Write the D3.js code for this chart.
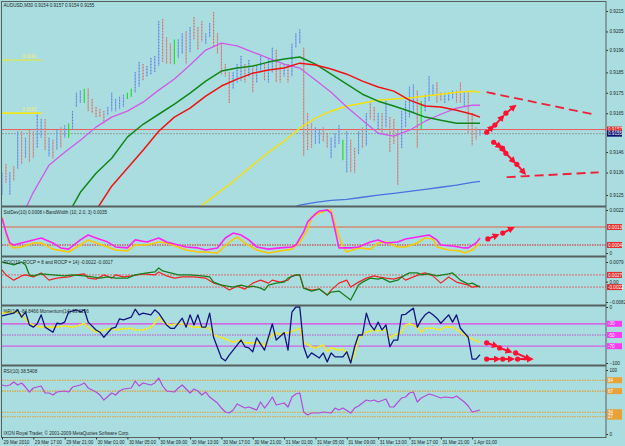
<!DOCTYPE html>
<html>
<head>
<meta charset="utf-8">
<script src="https://cdn.jsdelivr.net/npm/d3@7"></script>
<style>
  body { margin: 0; background: #aadde0; }
  text { font-family: "Liberation Sans", Arial, sans-serif; font-size: 4.6px; fill: #1e2a2a; }
</style>
</head>
<body>
<svg id="chart" width="625" height="446"></svg>
<script>
// Price bars (M30), one entry per bar, index 0 = 29 Mar 13:00.
const barHigh = [0.9136,0.9140,0.9136,0.9139,0.9156,0.9156,0.9153,0.9157,0.9156,0.9165,
  0.9162,0.9162,0.9153,0.9152,0.9157,0.9158,0.9159,0.9160,0.9166,0.9175,
  0.9176,0.9177,0.9177,0.9172,0.9168,0.9167,0.9166,0.9168,0.9175,0.9172,
  0.9173,0.9174,0.9175,0.9177,0.9185,0.9190,0.9189,0.9188,0.9192,0.9193,
  0.9210,0.9211,0.9202,0.9199,0.9201,0.9201,0.9204,0.9205,0.9207,0.9212,
  0.9207,0.9210,0.9204,0.9209,0.92145,0.9204,0.9199,0.9189,0.9185,0.9185,
  0.9189,0.9193,0.9189,0.9191,0.9188,0.9188,0.9193,0.9189,0.9192,0.9197,
  0.9196,0.9189,0.9189,0.9189,0.9199,0.9204,0.9206,0.9197,0.9165,0.9160,
  0.9158,0.9157,0.9158,0.9155,0.9153,0.9155,0.9159,0.9152,0.9156,0.9152,
  0.9148,0.9156,0.9158,0.9165,0.9171,0.9168,0.9165,0.9165,0.9171,0.9163,
  0.9162,0.9157,0.9166,0.9171,0.9178,0.9179,0.9176,0.9171,0.9174,0.9183,
  0.9179,0.9180,0.9175,0.9175,0.9175,0.9176,0.9176,0.9180,0.9175,0.9175,
  0.9165,0.9158,0.9157];
const barLow = [0.9125,0.9131,0.9125,0.9132,0.9138,0.9140,0.9143,0.9141,0.9143,0.9148,
  0.9153,0.9147,0.9144,0.9143,0.9147,0.9148,0.9153,0.9153,0.9157,0.9168,
  0.9170,0.9170,0.9166,0.9165,0.9163,0.9163,0.9160,0.9164,0.9166,0.9166,
  0.9167,0.9168,0.9172,0.9173,0.9175,0.9178,0.9181,0.9183,0.9184,0.9185,
  0.9188,0.9190,0.9189,0.9189,0.9189,0.9192,0.9194,0.9189,0.9195,0.9201,
  0.9196,0.9200,0.9199,0.9202,0.9198,0.9194,0.9184,0.9183,0.9170,0.9177,
  0.9180,0.9181,0.9180,0.9183,0.9175,0.9180,0.9185,0.9181,0.9180,0.9185,
  0.9180,0.9180,0.9183,0.9180,0.9183,0.9197,0.9199,0.9144,0.9147,0.9148,
  0.9150,0.9150,0.9151,0.9148,0.9143,0.9148,0.9150,0.9142,0.9136,0.9136,
  0.9136,0.9145,0.9148,0.9149,0.9162,0.9161,0.9157,0.9155,0.9158,0.9146,
  0.9150,0.9130,0.9148,0.9158,0.9163,0.9165,0.9148,0.9157,0.9166,0.9171,
  0.9174,0.9170,0.9171,0.9170,0.9171,0.9172,0.9170,0.9170,0.9168,0.9155,
  0.9149,0.9152,0.9154];
// u = up bar, d = down bar, g = highlighted bar.
const barType = ("ududududdu" + "udududuguu" + "ugddddduuu" + "uugguuduuu" + "udddguudud" +
  "dduudddddu" + "uududuuduu" + "dduduuuddd" + "uudduuugud" + "dududdudud" +
  "dduuuudguu" + "udduuuddud" + "ddu").split("");

// Moving averages, sampled every 4 bars.
const maIdx = [0,4,8,12,16,20,24,28,32,36,40,44,48,52,56,60,64,68,72,76,80,84,88,92,96,100,104,108,112,116,120,122];
const maViolet = [null,0.91102,0.91263,0.91396,0.91459,0.91518,0.91582,0.91631,0.91660,0.91704,0.91763,0.91817,0.91886,0.91959,0.91993,0.91979,
  0.91949,0.91920,0.91890,0.91871,0.91812,0.91753,0.91680,0.91616,0.91552,0.91538,0.91567,0.91611,0.91645,0.91675,0.91689,0.91689];
const maGreen = [null,null,null,null,0.91126,0.91263,0.91356,0.91430,0.91533,0.91596,0.91645,0.91694,0.91748,0.91807,0.91856,0.91871,
  0.91881,0.91900,0.91915,0.91925,0.91890,0.91841,0.91792,0.91743,0.91709,0.91685,0.91660,0.91631,0.91616,0.91601,0.91601,0.91601];
const maRed = [null,null,null,null,null,0.91077,0.91175,0.91293,0.91381,0.91469,0.91562,0.91631,0.91675,0.91734,0.91783,0.91817,
  0.91846,0.91861,0.91871,0.91895,0.91886,0.91866,0.91841,0.91807,0.91778,0.91758,0.91714,0.91685,0.91680,0.91665,0.91645,0.91631];
const maYellow = [null,null,null,null,null,null,null,null,null,null,null,null,0.91151,0.91214,0.91273,0.91332,
  0.91396,0.91459,0.91513,0.91577,0.91626,0.91660,0.91685,0.91699,0.91714,0.91719,0.91724,0.91734,0.91743,0.91753,0.91758,0.91753];
const maBlue = [null,null,null,null,null,null,null,null,null,null,null,null,null,null,null,null,
  null,null,0.91175,0.91200,0.91214,0.91224,0.91229,0.91239,0.91249,0.91258,0.91268,0.91278,0.91288,0.91298,0.91312,0.91317];

// StdDev / BandWidth panel.
const sdMagIdx = [0,1,2,3,5,8,10,13,15,17,20,22,24,27,29,32,34,37,40,42,45,47,50,52,55,57,59,61,63,65,68,71,74,75,77,78,80,81,83,84,85,86,89,91,94,96,98,101,103,106,109,111,112,115,118,119,121,122];
const sdMag = [0.00179,0.00108,0.00051,0.00041,0.00051,0.00067,0.00077,0.00051,0.00026,0.00020,0.00067,0.00092,0.00077,0.00056,0.00031,
  0.00026,0.00067,0.00056,0.00077,0.00056,0.00041,0.00031,0.00026,0.00015,0.00026,0.00077,0.00102,0.00092,0.00067,0.00031,
  0.00020,0.00026,0.00031,0.00041,0.00108,0.00159,0.00200,0.00215,0.00220,0.00205,0.00118,0.00026,0.00026,0.00031,0.00056,
  0.00067,0.00051,0.00056,0.00072,0.00082,0.00092,0.00067,0.00041,0.00036,0.00026,0.00026,0.00051,0.00077];
const sdYelIdx = [0,1,2,3,5,8,10,13,17,20,22,24,27,29,32,34,37,40,42,45,47,50,52,55,58,60,62,65,68,71,74,76,78,79,81,83,84,85,87,88,91,94,96,98,101,103,106,108,110,111,114,117,118,120,122];
const sdYel = [0.00184,0.00102,0.00041,0.00026,0.00031,0.00051,0.00051,0.00020,0.00005,0.00041,0.00067,0.00051,0.00031,0.00015,0.00010,
  0.00041,0.00041,0.00056,0.00051,0.00031,0.00015,0.00005,0.00005,0.00000,0.00056,0.00082,0.00051,0.00015,0.00000,0.00010,
  0.00020,0.00056,0.00118,0.00184,0.00205,0.00220,0.00220,0.00143,0.00031,0.00005,0.00026,0.00020,0.00051,0.00056,0.00031,
  0.00031,0.00051,0.00077,0.00072,0.00031,0.00015,0.00010,0.00000,0.00015,0.00051];
const sdLevels = [0.00133, 0.00041];

// ROC panel.
const rocGreenIdx = [0,1,3,5,6,7,8,10,13,16,18,21,23,25,27,29,32,34,37,39,40,41,43,45,48,51,53,54,56,59,61,63,64,66,67,68,70,72,73,75,76,77,79,81,83,84,86,88,89,91,92,94,96,97,99,101,102,104,106,107,109,111,114,115,117,119,120,122];
const rocGreen = [0.0079,0.0075,0.0067,0.0079,0.0067,0.0027,0.0023,0.0031,0.0027,0.0023,0.0027,0.0023,0.0019,0.0014,0.0019,
  0.0014,0.0014,0.0027,0.0035,0.0039,0.0055,0.0043,0.0035,0.0027,0.0027,0.0023,0.0019,-0.0002,-0.0014,-0.0022,
  -0.0014,-0.0022,-0.0018,-0.0026,-0.0034,-0.0014,-0.0006,-0.0002,0.0014,0.0027,0.0027,-0.0026,-0.0038,-0.0030,-0.0054,
  -0.0042,-0.0038,-0.0062,-0.0074,-0.0014,-0.0002,0.0014,0.0010,0.0014,-0.0002,0.0006,0.0019,0.0035,0.0035,0.0027,
  0.0031,0.0023,0.0031,0.0035,0.0006,-0.0010,-0.0006,-0.0022];
const rocRedIdx = [0,1,3,5,6,8,10,12,14,17,19,21,22,24,26,28,29,31,33,36,39,40,42,44,46,49,52,54,56,58,60,62,64,66,68,69,71,73,74,76,77,79,81,83,84,86,88,89,91,93,95,96,98,100,102,103,105,107,108,110,112,114,116,119,120,122];
const rocRed = [0.0047,0.0027,0.0006,0.0023,0.0027,0.0019,0.0035,0.0006,0.0014,0.0019,0.0027,0.0031,0.0014,0.0010,0.0027,
  0.0014,0.0027,0.0019,0.0023,0.0031,0.0027,0.0039,0.0023,0.0014,0.0019,0.0019,0.0014,-0.0006,-0.0014,-0.0034,
  -0.0018,-0.0030,-0.0006,0.0006,-0.0006,0.0006,-0.0002,0.0006,0.0023,0.0027,-0.0026,-0.0034,-0.0030,-0.0054,-0.0034,
  -0.0006,0.0006,-0.0022,-0.0002,0.0014,0.0023,0.0019,0.0014,0.0010,0.0019,0.0006,0.0019,0.0031,0.0035,0.0023,
  -0.0006,0.0019,-0.0002,-0.0014,-0.0022,-0.0018];
const rocLevels = [0.0027, -0.0022];

// %R and Momentum panel.
const wprIdx = [0,1,3,4,5,6,7,8,9,10,11,13,14,15,16,17,19,20,21,22,24,25,26,28,29,30,31,33,34,35,36,38,39,40,42,43,44,46,47,48,49,50,51,52,53,54,56,57,58,59,61,62,63,64,65,67,68,69,70,72,73,74,75,76,77,78,79,81,82,83,84,85,87,88,89,90,91,92,93,94,95,96,97,98,99,100,101,102,103,105,106,107,108,109,110,111,112,114,115,116,117,118,119,120,121,122];
const wpr = [-16,-14,-11,-5,-18,-9,-32,-36,-30,-14,-36,-45,-29,-30,-27,-9,-5,-9,-5,-27,-41,-45,-54,-38,-36,-21,-23,-18,-4,-14,
  -11,-14,-5,-11,-32,-38,-38,-20,-36,-14,-32,-14,-36,-36,-11,-54,-91,-96,-86,-77,-59,-71,-73,-80,-55,-77,-54,-30,-59,-46,
  -77,-9,0,0,-71,-91,-82,-91,-82,-98,-82,-89,-89,-80,-100,-71,-50,-50,-11,-32,-41,-27,-41,-32,-71,-59,-59,-14,-13,-2,
  -36,-23,-14,-9,-14,-20,-29,-14,-27,-14,-38,-46,-54,-93,-93,-85];
const momIdx = [0,2,4,5,7,8,10,12,14,16,18,20,21,22,24,26,28,29,31,33,34,36,38,39,40,41,43,45,46,47,49,51,53,54,56,57,59,61,62,64,66,67,68,70,71,72,73,75,76,77,79,80,82,83,84,86,87,88,89,90,91,93,95,96,98,99,100,102,103,104,106,107,108,110,112,113,115,117,119,120,122];
const mom = [-11,-9,-9,-14,-29,-32,-36,-36,-36,-34,-36,-32,-29,-36,-45,-41,-38,-41,-39,-38,-41,-41,-36,-29,-18,-27,-32,-30,-30,-32,
  -36,-36,-38,-50,-54,-57,-63,-59,-64,-64,-64,-70,-55,-46,-50,-46,-46,-41,-38,-63,-71,-73,-68,-80,-73,-77,-75,-82,-98,-86,
  -55,-45,-41,-43,-41,-55,-50,-46,-32,-30,-36,-45,-38,-38,-41,-36,-36,-45,-54,-57,-63];
const wprLevels = [-30, -50, -70];

// RSI panel.
const rsiIdx = [0,1,2,3,4,5,6,7,8,10,11,12,13,14,16,17,18,19,20,21,22,24,25,26,28,29,30,31,33,34,35,36,38,39,40,41,42,44,45,46,48,49,50,51,52,53,55,56,57,58,59,60,62,63,65,66,67,68,69,70,72,73,74,75,76,77,78,79,81,82,84,85,86,87,89,90,91,93,94,95,96,98,99,100,102,103,104,105,106,107,109,110,112,113,115,116,118,119,120,121,122];
const rsi = [76.6,75.0,76.6,81.3,76.6,79.7,73.4,65.6,71.9,75.0,64.1,64.1,60.9,65.6,67.2,65.6,73.4,75.0,76.6,79.7,
  71.9,65.6,60.9,53.1,64.1,60.9,67.2,70.3,71.9,82.8,75.0,79.7,76.6,79.7,87.5,75.0,67.2,65.6,71.9,76.6,
  64.1,70.3,67.2,60.9,65.6,57.8,48.4,40.6,34.4,32.8,37.5,46.9,40.6,42.2,37.5,50.0,40.6,48.4,57.8,45.3,
  48.4,42.2,57.8,62.5,64.1,34.4,29.7,32.8,32.8,34.4,32.8,40.6,37.5,40.6,32.8,40.6,43.8,53.1,51.6,53.1,
  50.0,54.7,42.2,42.2,56.3,57.8,64.1,65.6,50.0,56.3,62.5,60.9,56.3,57.8,56.3,59.4,50.0,43.8,34.4,35.9,37.5];
const rsiLevels = [84, 67, 34, 27];

// Axis ticks and labels.
const priceTicks = [0.9215,0.9205,0.9196,0.9185,0.9175,0.9165,0.9146,0.9136,0.9125];
const bidPrice = 0.9157, askPrice = 0.9155;
const alertPrices = [0.9191, 0.9165];
const timeIdx = [0,8,16,24,32,40,48,56,64,72,80,88,96,104,112,120];
const timeLabels = ["29 Mar 2010","29 Mar 17:00","29 Mar 21:00","30 Mar 01:00","30 Mar 05:00","30 Mar 09:00",
  "30 Mar 13:00","30 Mar 17:00","30 Mar 21:00","31 Mar 01:00","31 Mar 05:00","31 Mar 09:00","31 Mar 13:00",
  "31 Mar 17:00","31 Mar 21:00","1 Apr 01:00"];

// Hand drawn objects: [bar, value] pairs.
const trendUpper = [[123.7,0.91753],[150.8,0.91645]];
const trendLower = [[128.8,0.91337],[152.3,0.91361]];
const arrowsMain = [[[123.7,0.91557],[125.3,0.91585]],[[125.8,0.91592],[127.9,0.91635]],[[128.6,0.91650],[130.9,0.91685]],
  [[125.5,0.91508],[127.3,0.91484]],[[127.6,0.91479],[128.4,0.91462]],[[128.6,0.91454],[130.8,0.91410]],[[131.4,0.91400],[133.4,0.91356]]];
const arrowsSd = [[[124.0,0.00072],[126.5,0.00092]],[[127.8,0.00102],[130.4,0.00128]]];
const arrowsWpr = [[[123.7,-64],[126.3,-70]],[[127.0,-73],[129.8,-80]],[[131.1,-82],[134.7,-93]],
  [[123.7,-93],[126.8,-93]],[[127.8,-93],[130.4,-93]],[[131.6,-93],[135.2,-93]]];

const svg = d3.select("#chart");
svg.append("rect").attr("width", 625).attr("height", 446).attr("fill", "#aadde0");
const defs = svg.append("defs");
defs.append("marker").attr("id", "head").attr("viewBox", "0 0 10 10")
  .attr("refX", 7).attr("refY", 5).attr("markerWidth", 7).attr("markerHeight", 7)
  .attr("markerUnits", "userSpaceOnUse").attr("orient", "auto")
  .append("path").attr("d", "M0,0L10,5L0,10z").attr("fill", "#ff1030");

// Horizontal scale on the bar index.
const x = d3.scaleLinear().domain([0, 122]).range([2, 480]);
const right = 606;

// Vertical scales of the five panels.
const yMain = d3.scaleLinear().domain([0.9125, 0.9215]).range([195, 11]);
const ySd = d3.scaleLinear().domain([0, 0.0022]).range([253, 210]);
const yRoc = d3.scaleLinear().domain([-0.0082, 0.0079]).range([302, 262]);
const yWpr = d3.scaleLinear().domain([-100, 0]).range([363, 307]);
const yRsi = d3.scaleLinear().domain([0, 100]).range([434, 370]);

function panel(name, top, bottom) {
  defs.append("clipPath").attr("id", "clip-" + name)
    .append("rect").attr("x", 2).attr("y", top).attr("width", right - 2).attr("height", bottom - top);
  return svg.append("g").attr("clip-path", `url(#clip-${name})`);
}
const zip = (idx, vals) => idx.map((i, k) => [i, vals[k]]);
function series(g, y, data, color, width, dash) {
  g.append("path").datum(data)
    .attr("fill", "none").attr("stroke", color).attr("stroke-width", width)
    .attr("stroke-dasharray", dash || null).attr("stroke-linejoin", "round")
    .attr("d", d3.line().defined(d => d[1] != null).x(d => x(d[0])).y(d => y(d[1])));
}
function level(g, y, v, color, dash, width) {
  g.append("line").attr("x1", 2).attr("x2", right).attr("y1", y(v)).attr("y2", y(v))
    .attr("stroke", color).attr("stroke-width", width || 1).attr("stroke-dasharray", dash || null);
}
function axis(y, values, fmt) {
  const g = svg.append("g").attr("transform", `translate(${right},0)`)
    .call(d3.axisRight(y).tickValues(values).tickFormat(fmt).tickSize(2).tickSizeOuter(0));
  g.select(".domain").remove();
  g.selectAll("line").attr("stroke", "#333");
  g.selectAll("text").attr("x", 3.5).attr("font-size", null).attr("font-family", null);
}
function tag(y, v, txt, fill, color) {
  svg.append("rect").attr("x", right + 1).attr("y", y(v) - 3).attr("width", 15).attr("height", 6).attr("fill", fill);
  svg.append("text").attr("x", right + 2).attr("y", y(v) + 1.6).style("fill", color || "#fff").text(txt);
}
function arrows(g, y, list) {
  list.forEach(seg => {
    g.append("line").attr("x1", x(seg[0][0])).attr("y1", y(seg[0][1]))
      .attr("x2", x(seg[1][0])).attr("y2", y(seg[1][1]))
      .attr("stroke", "#ff1030").attr("stroke-width", 2).attr("marker-end", "url(#head)");
    g.append("circle").attr("cx", x(seg[0][0])).attr("cy", y(seg[0][1])).attr("r", 2.6).attr("fill", "#ff1030");
  });
}

// Main chart.
const main = panel("main", 1, 206);
level(main, yMain, askPrice, "#8e9e9e", "2,1");
level(main, yMain, bidPrice, "#ec5a5a");
const barColor = { u: "#84a8e8", d: "#c8a0a6", g: "#22e022" };
const dotColor = { u: "#3b6cd8", d: "#d6502c", g: "#22e022" };
barHigh.forEach((h, i) => {
  const t = barType[i];
  main.append("line").attr("x1", x(i)).attr("x2", x(i)).attr("y1", yMain(h)).attr("y2", yMain(barLow[i]))
    .attr("stroke", barColor[t]).attr("stroke-width", 1.2);
  if (t !== "g") {
    main.append("line").attr("x1", x(i)).attr("x2", x(i)).attr("y1", yMain(h)).attr("y2", yMain(barLow[i]))
      .attr("stroke", dotColor[t]).attr("stroke-width", 0.8).attr("stroke-dasharray", "0.8,2.2");
  }
});
series(main, yMain, zip(maIdx, maBlue), "#4a72e0", 1.3);
series(main, yMain, zip(maIdx, maYellow), "#f4e010", 1.5);
series(main, yMain, zip(maIdx, maViolet), "#d05ae8", 1.3);
series(main, yMain, zip(maIdx, maGreen), "#12861a", 1.5);
series(main, yMain, zip(maIdx, maRed), "#f01212", 1.5);
alertPrices.forEach((p, k) => {
  main.append("line").attr("x1", 2).attr("x2", x(10)).attr("y1", yMain(p)).attr("y2", yMain(p))
    .attr("stroke", "#f0e81a").attr("stroke-width", 1.8).attr("stroke-dasharray", k === 0 ? "1,0.8" : null);
  main.append("text").attr("x", x(5.2)).attr("y", yMain(p) - 2).style("fill", "#f4f070").text(p.toFixed(4));
});
series(main, yMain, trendUpper, "#f0203a", 1.8, "9,5");
series(main, yMain, trendLower, "#f0203a", 1.8, "9,5");
arrows(main, yMain, arrowsMain);
svg.append("text").attr("x", 3.5).attr("y", 7).text("AUDUSD,M30  0.9154 0.9157 0.9154 0.9155");
axis(yMain, priceTicks, d3.format(".4f"));
tag(yMain, bidPrice, bidPrice.toFixed(4), "#e81818");
tag(yMain, askPrice, askPrice.toFixed(4), "#0c1070");

// StdDev panel.
const sd = panel("sd", 207, 256);
level(sd, ySd, sdLevels[0], "#e8603c", null, 1.2);
level(sd, ySd, sdLevels[1], "#d82020", "1.5,1", 1.2);
series(sd, ySd, zip(sdYelIdx, sdYel), "#f8c800", 1.6);
series(sd, ySd, zip(sdMagIdx, sdMag), "#ff22f0", 1.6);
arrows(sd, ySd, arrowsSd);
svg.append("text").attr("x", 3.5).attr("y", 213.5).text("StdDev(10) 0.0008  i-BandWidth (10, 2.0, 3) 0.0035");
axis(ySd, [0.0022, 0], d => d === 0 ? "0" : d3.format(".4f")(d));
sdLevels.forEach(v => tag(ySd, v, v.toFixed(4), "#e02c2c"));

// ROC panel.
const roc = panel("roc", 257, 305);
rocLevels.forEach(v => level(roc, yRoc, v, "#d86a6a", "2,1"));
series(roc, yRoc, zip(rocRedIdx, rocRed), "#f02424", 1.2);
series(roc, yRoc, zip(rocGreenIdx, rocGreen), "#17801c", 1.3);
svg.append("text").attr("x", 3.5).attr("y", 263.5).text("ROC(10, ROCP = 8 and ROCP = 14) -0.0022 -0.0017");
axis(yRoc, [0.0079, 0, -0.0082], d => d === 0 ? "0.00" : d3.format(".4f")(d));
rocLevels.forEach(v => tag(yRoc, v, v.toFixed(4), "#e02c2c"));

// %R and Momentum panel.
const wp = panel("wpr", 306, 365);
level(wp, yWpr, wprLevels[0], "#e040e8", null, 1.2);
level(wp, yWpr, wprLevels[1], "#c050d0", "1.5,1", 1.2);
level(wp, yWpr, wprLevels[2], "#d060e8", null, 1.2);
series(wp, yWpr, zip(momIdx, mom), "#eee418", 1.6);
series(wp, yWpr, zip(momIdx, mom), "#ffffff", 0.8, "0.6,3");
series(wp, yWpr, zip(wprIdx, wpr), "#12147e", 1.3);
arrows(wp, yWpr, arrowsWpr);
svg.append("text").attr("x", 3.5).attr("y", 312.5).text("%R(14) -84.8466  Momentum(14) 99.8266");
axis(yWpr, [0, -100], d3.format("d"));
wprLevels.forEach(v => tag(yWpr, v, String(v), "#ff3cf4"));

// RSI panel.
const rs = panel("rsi", 366, 437);
rsiLevels.forEach(v => level(rs, yRsi, v, "#e0a030", "1.5,1", 1.1));
series(rs, yRsi, zip(rsiIdx, rsi), "#b44ad8", 1.2);
svg.append("text").attr("x", 3.5).attr("y", 372.5).text("RSI(10) 38.5408");
svg.append("text").attr("x", 3.5).attr("y", 434.5).text("IXON Royal Trader, \u00a9 2001-2009 MetaQuotes Software Corp.");
axis(yRsi, [100, 0], d3.format("d"));
rsiLevels.forEach(v => tag(yRsi, v, String(v), "#e8a23a"));

// Panel frames and separators.
svg.append("rect").attr("x", 1.5).attr("y", 1.5).attr("width", right - 1.5).attr("height", 436)
  .attr("fill", "none").attr("stroke", "#56605f").attr("stroke-width", 1);
[206.5, 256.5, 305.5, 365.5].forEach(v => {
  svg.append("line").attr("x1", 1.5).attr("x2", right).attr("y1", v).attr("y2", v)
    .attr("stroke", "#56605f").attr("stroke-width", 2);
});

// Time axis.
const tAxis = svg.append("g").attr("transform", "translate(0,437.5)")
  .call(d3.axisBottom(x).tickValues(timeIdx).tickFormat((d, i) => timeLabels[i]).tickSize(2).tickSizeOuter(0));
tAxis.select(".domain").remove();
tAxis.selectAll("line").attr("stroke", "#333");
tAxis.selectAll("text").attr("text-anchor", "start").attr("x", 1).attr("y", 3).attr("dy", "0.71em")
  .attr("font-size", null).attr("font-family", null);
</script>
</body>
</html>
